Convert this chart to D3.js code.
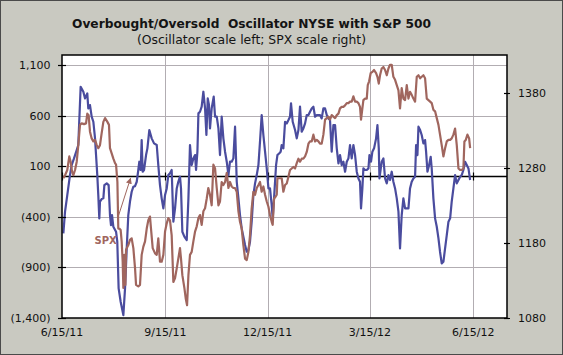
<!DOCTYPE html>
<html><head><meta charset="utf-8">
<script src="https://cdn.jsdelivr.net/npm/d3@7"></script>
<style>html,body{margin:0;padding:0;background:#c9c9c1;}svg{display:block;}</style>
</head><body>
<svg id="chart" width="563" height="355"></svg>
<script>
// ---------- data ----------
const titleText = "Overbought/Oversold  Oscillator NYSE with S&P 500";
const subtitleText = "(Oscillator scale left; SPX scale right)";
const startDate = Date.UTC(2011, 5, 15);   // day 0 = 6/15/11
const endDate = Date.UTC(2012, 6, 15);

// days since 6/15/11 for each oscillator reading
const oscDays = [1.2,2.7,4.7,7.1,8.6,10.7,13.1,14.5,16.6,19.0,20.5,22.5,23.4,24.9,26.4,27.9,29.4,30.3,31.4,32.3,33.2,33.8,35.3,36.8,37.7,39.8,41.5,42.7,43.6,44.5,45.7,48.1,49.2,50.4,52.2,54.6,56.1,57.6,59.0,60.5,62.0,63.5,65.0,66.5,67.9,68.8,70.0,70.9,71.8,73.0,74.8,76.0,77.7,79.8,81.9,84.3,85.7,87.2,88.7,90.2,91.7,93.2,94.6,96.1,97.6,99.1,100.6,102.1,103.5,105.0,105.9,107.1,108.9,111.0,112.5,113.9,115.4,116.9,118.4,119.3,120.5,121.4,122.8,124.3,125.8,127.3,128.5,129.7,130.8,131.7,133.2,135.0,136.2,137.7,139.2,140.6,142.1,143.6,145.1,146.6,148.1,149.5,151.0,152.5,154.0,155.5,157.0,158.4,159.9,161.4,162.9,164.4,165.9,167.3,168.8,170.3,171.8,173.3,174.8,176.2,177.7,179.2,180.7,182.2,183.7,185.1,186.6,187.5,188.7,190.5,191.7,193.2,194.6,195.5,197.0,198.5,200.0,201.5,202.9,203.8,205.3,207.4,208.9,210.4,211.8,213.3,214.8,216.3,217.8,219.3,220.7,222.2,223.7,225.2,226.7,229.6,231.1,232.6,234.1,235.6,237.1,238.5,240.0,241.5,243.0,244.5,246.0,247.4,248.9,250.4,251.9,253.4,254.9,256.3,257.8,259.3,260.8,262.3,263.8,265.2,266.1,267.3,268.2,269.7,271.2,272.7,273.6,275.0,276.2,277.7,279.5,280.7,281.9,282.5,284.5,286.0,287.5,289.0,290.5,291.9,293.4,294.9,296.4,297.9,299.4,300.8,302.3,303.8,305.3,308.3,309.7,311.2,312.7,314.2,315.1,316.3,317.2,318.7,320.1,321.6,323.1,324.0,325.2,326.7,328.1,329.0,330.5,332.0,333.5,335.0,336.4,337.9,339.4,340.9,342.4,343.9,345.4,346.8,348.3,349.8,351.3,352.8,354.3,355.7,357.2,358.7,360.2,361.7,363.2];
const oscValues = [-563,-349,-185,13,112,178,260,310,886,837,771,820,672,705,590,540,376,211,13,-185,-415,-250,-224,-217,-86,-69,-86,-382,-481,-382,-498,-547,-646,-1107,-1239,-1371,-1107,-712,-382,-250,-152,-102,-96,-53,63,145,63,359,46,63,211,277,458,376,326,310,112,-86,-217,-316,-185,-119,13,30,63,-448,-316,-119,-53,-3,-119,-547,-596,-629,-217,310,112,178,211,63,244,623,639,689,837,672,409,771,705,474,672,788,590,590,474,211,590,376,244,145,13,145,145,178,491,-53,-217,-382,-514,-596,-679,-745,-728,-646,-448,-185,-69,13,112,343,606,409,244,79,-119,-119,-283,-415,-217,112,211,227,244,310,277,540,524,557,590,722,540,458,376,458,689,442,474,524,606,606,639,672,689,590,606,606,573,672,672,606,573,557,244,507,507,277,128,211,112,145,46,145,178,310,178,310,211,46,-20,-53,-316,-119,79,63,63,79,211,145,244,277,376,507,277,-20,145,178,-20,-69,13,-36,46,-53,-119,-217,-349,-712,-382,-217,-316,-316,-119,-53,-20,-3,310,211,491,458,409,326,359,244,46,112,194,79,-217,-415,-498,-613,-745,-860,-844,-712,-580,-448,-415,-250,-119,13,-69,-36,-3,13,63,145,112,79,-36];

// days since 6/15/11 for each S&P 500 close
const spxDays = [1.2,2.7,4.7,6.5,7.7,8.9,10.1,11.6,13.1,14.5,16.0,17.5,19.6,21.4,22.5,23.7,24.9,26.4,27.9,29.4,30.9,32.3,33.8,35.3,36.8,38.3,40.4,41.8,42.7,44.2,45.7,47.2,48.1,49.3,50.1,51.0,52.2,53.1,54.0,54.6,55.5,56.4,57.0,59.0,60.5,62.0,63.5,65.0,65.9,67.9,69.4,70.9,72.4,73.9,75.4,76.8,78.3,79.2,80.7,82.8,84.3,85.7,87.2,88.7,90.2,91.7,93.2,94.6,96.1,97.6,99.1,100.6,102.1,103.5,105.0,105.9,107.1,108.9,110.1,111.3,112.5,113.9,115.4,116.9,118.4,119.9,121.4,122.8,124.3,125.8,127.3,128.8,130.2,131.7,133.2,134.7,136.2,137.7,139.2,140.6,142.1,143.6,145.1,146.6,148.1,149.5,151.0,152.5,154.0,155.5,157.0,158.4,159.9,161.4,162.9,164.4,165.9,167.3,168.8,170.3,171.8,173.3,174.8,176.2,177.7,179.2,180.7,182.2,183.7,185.1,186.6,187.5,188.7,189.9,191.1,191.7,193.4,195.5,197.0,198.5,200.0,201.5,202.9,204.4,205.9,207.4,208.9,210.4,211.8,213.3,214.8,216.3,217.8,219.3,220.7,222.2,223.7,225.2,226.7,228.2,229.6,231.1,232.6,234.1,235.6,237.1,238.5,240.0,241.5,243.0,244.5,246.0,247.4,248.9,250.4,251.9,253.4,254.9,256.3,257.8,259.3,260.8,262.3,263.8,265.2,266.1,267.3,268.2,269.7,271.2,272.1,273.3,274.7,276.5,277.7,279.5,280.7,281.9,283.0,284.5,286.0,287.5,289.0,290.5,291.9,293.4,294.9,296.4,297.9,299.4,300.8,302.3,303.8,305.3,306.8,308.3,309.7,311.2,312.7,314.2,315.7,317.2,318.7,320.1,321.6,323.1,324.6,326.1,327.6,329.0,330.5,332.0,333.5,335.0,336.4,337.9,339.4,340.9,342.4,343.9,345.4,346.8,348.3,349.8,351.3,352.8,354.3,355.7,357.2,358.1,359.3,360.8,362.3,363.2];
const spxValues = [1266,1270,1277,1295,1288,1275,1270,1277,1288,1310,1337,1339,1338,1339,1352,1350,1328,1319,1315,1317,1310,1306,1310,1326,1341,1346,1341,1337,1306,1299,1292,1286,1284,1261,1199,1199,1197,1182,1155,1120,1164,1124,1171,1177,1184,1186,1173,1146,1124,1122,1124,1164,1175,1182,1199,1210,1215,1199,1173,1166,1164,1186,1155,1155,1164,1195,1206,1213,1210,1190,1128,1133,1146,1159,1173,1159,1137,1120,1106,1097,1137,1164,1168,1182,1195,1202,1213,1217,1204,1222,1226,1239,1253,1244,1230,1284,1279,1253,1230,1235,1261,1257,1261,1273,1253,1261,1255,1253,1253,1248,1222,1208,1199,1177,1159,1157,1168,1190,1226,1248,1244,1253,1257,1261,1248,1255,1244,1235,1228,1217,1208,1204,1239,1241,1244,1266,1266,1266,1248,1257,1259,1268,1277,1279,1281,1279,1286,1292,1288,1292,1292,1295,1301,1312,1315,1315,1324,1315,1317,1315,1312,1312,1324,1344,1346,1348,1344,1350,1348,1346,1350,1352,1359,1361,1361,1363,1366,1366,1368,1368,1375,1368,1368,1366,1361,1344,1359,1370,1372,1372,1390,1395,1406,1408,1410,1406,1401,1392,1403,1412,1414,1410,1403,1412,1417,1417,1401,1397,1390,1383,1359,1386,1372,1370,1390,1372,1381,1377,1372,1368,1401,1403,1399,1401,1403,1399,1372,1370,1368,1366,1357,1355,1346,1337,1324,1310,1295,1306,1315,1317,1317,1319,1324,1332,1310,1279,1277,1277,1279,1315,1317,1324,1319,1306];

const oscTicks = [1100, 600, 100, -400, -900, -1400];
const spxTicks = [1380, 1280, 1180, 1080];
const dateTicks = ["2011-06-15", "2011-09-15", "2011-12-15", "2012-03-15", "2012-06-15"];
const dateTickLabels = ["6/15/11", "9/15/11", "12/15/11", "3/15/12", "6/15/12"];
const spxLabel = "SPX";
const spxArrowFrom = {day: 49.4, spx: 1212};
const spxArrowTo = {day: 61.0, spx: 1266};

// ---------- chart ----------
const W = 563, H = 355;
const plot = {left: 62, right: 507, top: 55, bottom: 318};
const blue = "#4a4c9e", brown = "#a0665e", grid = "#b2adb2";
const font = "DejaVu Sans, Verdana, sans-serif";

const svg = d3.select("#chart");
const dayToDate = d => new Date(startDate + d * 864e5);
const parseDate = s => { const [y, m, dd] = s.split("-").map(Number); return new Date(Date.UTC(y, m - 1, dd)); };

const x = d3.scaleUtc().domain([new Date(startDate), new Date(endDate)]).range([plot.left, plot.right]);
const yL = d3.scaleLinear().domain([-1400, 1200]).range([plot.bottom, plot.top]);
const yR = d3.scaleLinear().domain([1080, 1430]).range([plot.bottom, plot.top]);

// background
svg.append("rect").attr("x", 0.5).attr("y", 0.5).attr("width", W - 1).attr("height", H - 1)
  .attr("fill", "#c9c9c1").attr("stroke", "#4a4a4a").attr("stroke-width", 1);
svg.append("rect").attr("x", plot.left).attr("y", plot.top)
  .attr("width", plot.right - plot.left).attr("height", plot.bottom - plot.top).attr("fill", "#ffffff");

// titles
svg.append("text").attr("x", 251.5).attr("y", 27.5).attr("text-anchor", "middle")
  .style("white-space", "pre").attr("font-family", font).attr("font-size", 13).attr("font-weight", "bold")
  .attr("fill", "#141414").attr("textLength", 359).attr("lengthAdjust", "spacingAndGlyphs").text(titleText);
svg.append("text").attr("x", 251.5).attr("y", 44).attr("text-anchor", "middle")
  .attr("font-family", font).attr("font-size", 12).attr("fill", "#141414")
  .attr("textLength", 229).attr("lengthAdjust", "spacingAndGlyphs").text(subtitleText);

// gridlines
const gridG = svg.append("g").attr("stroke", grid).attr("stroke-width", 1);
oscTicks.filter(v => v > -1400).forEach(v => {
  gridG.append("line").attr("x1", plot.left).attr("x2", plot.right)
    .attr("y1", Math.round(yL(v)) + 0.5).attr("y2", Math.round(yL(v)) + 0.5);
});
dateTicks.slice(1).forEach(s => {
  const xx = Math.round(x(parseDate(s))) + 0.5;
  gridG.append("line").attr("x1", xx).attr("x2", xx).attr("y1", plot.top).attr("y2", plot.bottom);
});

// zero line (category axis crossing at 0)
const y0 = Math.round(yL(0)) + 0.5;
svg.append("line").attr("x1", plot.left).attr("x2", plot.right).attr("y1", y0).attr("y2", y0)
  .attr("stroke", "#000").attr("stroke-width", 1.5);
dateTicks.forEach(s => {
  const xx = Math.round(x(parseDate(s))) + 0.5;
  svg.append("line").attr("x1", xx).attr("x2", xx).attr("y1", y0 - 4).attr("y2", y0 + 4)
    .attr("stroke", "#000").attr("stroke-width", 1.2);
});

// series
const oscData = oscDays.map((d, i) => ({date: dayToDate(d), v: oscValues[i]}));
const spxData = spxDays.map((d, i) => ({date: dayToDate(d), v: spxValues[i]}));

svg.append("path").datum(oscData)
  .attr("d", d3.line().x(d => x(d.date)).y(d => yL(d.v)))
  .attr("fill", "none").attr("stroke", blue).attr("stroke-width", 2.2).attr("stroke-linejoin", "round");
svg.append("path").datum(spxData)
  .attr("d", d3.line().x(d => x(d.date)).y(d => yR(d.v)))
  .attr("fill", "none").attr("stroke", brown).attr("stroke-width", 2.2).attr("stroke-linejoin", "round");

// frame
svg.append("rect").attr("x", plot.left).attr("y", plot.top)
  .attr("width", plot.right - plot.left).attr("height", plot.bottom - plot.top)
  .attr("fill", "none").attr("stroke", "#000").attr("stroke-width", 1.5);

// left axis
const axL = svg.append("g");
oscTicks.forEach(v => {
  const yy = Math.round(yL(v)) + 0.5;
  axL.append("line").attr("x1", plot.left - 4).attr("x2", plot.left + 4).attr("y1", yy).attr("y2", yy)
    .attr("stroke", "#000").attr("stroke-width", 1.2);
  const lbl = v < 0 ? "(" + d3.format(",")(-v) + ")" : d3.format(",")(v);
  axL.append("text").attr("x", 50.5).attr("y", yL(v)).attr("dy", "0.36em").attr("text-anchor", "end")
    .attr("font-family", font).attr("font-size", 11).attr("fill", "#111").text(lbl);
});

// right axis
const axR = svg.append("g");
spxTicks.forEach(v => {
  const yy = Math.round(yR(v)) + 0.5;
  axR.append("line").attr("x1", plot.right - 3).attr("x2", plot.right + 3).attr("y1", yy).attr("y2", yy)
    .attr("stroke", "#000").attr("stroke-width", 1.2);
  axR.append("text").attr("x", 518).attr("y", yR(v)).attr("dy", "0.36em").attr("text-anchor", "start")
    .attr("font-family", font).attr("font-size", 11).attr("fill", "#111").text(d3.format("d")(v));
});

// bottom labels
dateTicks.forEach((s, i) => {
  svg.append("text").attr("x", x(parseDate(s))).attr("y", 336).attr("text-anchor", "middle")
    .attr("font-family", font).attr("font-size", 11).attr("fill", "#111").text(dateTickLabels[i]);
});

// SPX annotation
svg.append("defs").append("marker").attr("id", "arrow").attr("viewBox", "0 0 10 10")
  .attr("refX", 9).attr("refY", 5).attr("markerWidth", 6).attr("markerHeight", 6)
  .attr("markerUnits", "userSpaceOnUse").attr("orient", "auto")
  .append("path").attr("d", "M0,0 L10,5 L0,10 z").attr("fill", brown);
svg.append("line")
  .attr("x1", x(dayToDate(spxArrowFrom.day))).attr("y1", yR(spxArrowFrom.spx))
  .attr("x2", x(dayToDate(spxArrowTo.day))).attr("y2", yR(spxArrowTo.spx))
  .attr("stroke", brown).attr("stroke-width", 1).attr("marker-end", "url(#arrow)");
svg.append("text").attr("x", 94.5).attr("y", 243.5).attr("font-family", font).attr("font-size", 10)
  .attr("font-weight", "bold").attr("fill", brown).text(spxLabel);
</script>
</body></html>
